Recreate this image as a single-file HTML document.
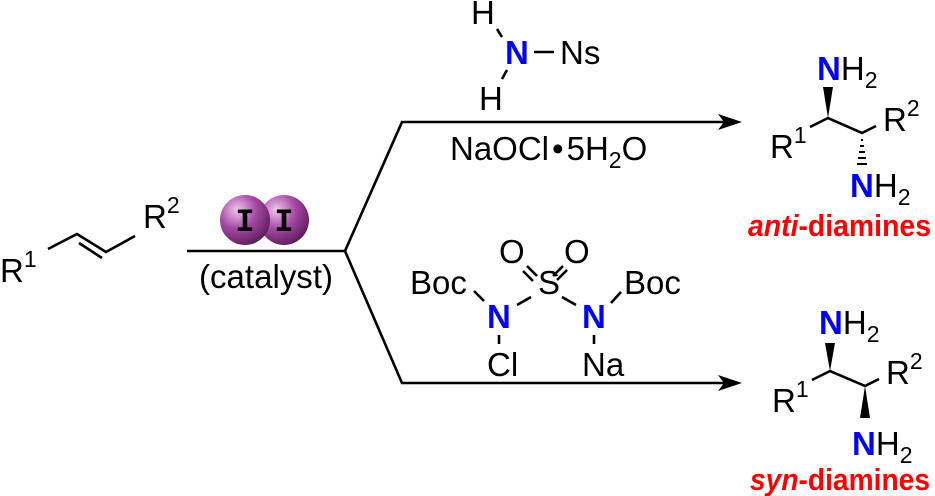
<!DOCTYPE html>
<html><head><meta charset="utf-8"><style>
html,body{margin:0;padding:0;background:#fff;}
svg{display:block;}
text{font-family:"Liberation Sans",Arial,sans-serif;font-size:33px;fill:#000;}
.b{fill:#0000ff;font-weight:bold;}
.s{font-size:23px;}
.r{fill:#ff0000;font-weight:bold;font-size:31px;}
</style></head><body>
<svg width="935" height="496" viewBox="0 0 935 496" xmlns="http://www.w3.org/2000/svg">
<defs>
<radialGradient id="g" cx="0.35" cy="0.3" r="0.75">
<stop offset="0" stop-color="#f2c6f0"/><stop offset="0.5" stop-color="#a54aa3"/><stop offset="1" stop-color="#5e1a5e"/>
</radialGradient>
</defs>
<g stroke="#000" stroke-width="2.6" fill="none">
<polyline points="48,249 77,234 106,252 135,236"/>
<line x1="79" y1="243" x2="102" y2="258"/>
<line x1="187" y1="251" x2="345" y2="251"/>
<polyline points="345,251 402,122 730,122"/>
<polyline points="345,251 402,383 730,383"/>
<line x1="497" y1="29" x2="502" y2="37"/>
<line x1="534" y1="52" x2="554" y2="52"/>
<line x1="507" y1="70" x2="502" y2="79"/>
<line x1="474" y1="291" x2="484" y2="301"/>
<line x1="517" y1="305" x2="531" y2="297"/>
<line x1="562" y1="297" x2="576" y2="305"/>
<line x1="611" y1="303" x2="621" y2="292"/>
<line x1="499" y1="335" x2="499" y2="344"/>
<line x1="594" y1="335" x2="594" y2="344"/>
<line x1="523" y1="271" x2="533" y2="281"/>
<line x1="527" y1="266" x2="537" y2="276"/>
<line x1="557" y1="280" x2="567" y2="270"/>
<line x1="553" y1="276" x2="563" y2="266"/>
<polyline points="810,127 828,118 862,133 876,126"/>
<polyline points="812,380 830,371 865,386 879,379"/>
</g>
<polygon points="742,122 718,114 724,122 718,130" fill="#000"/>
<polygon points="742,383 718,375 724,383 718,391" fill="#000"/>
<polygon points="828,118 823,87 833,87" fill="#000"/>
<polygon points="830,371 825,343 835,343" fill="#000"/>
<polygon points="865,386 860,418 870,418" fill="#000"/>
<g stroke="#000" stroke-width="2">
<line x1="861" y1="140" x2="863" y2="140"/>
<line x1="860" y1="146" x2="864" y2="146"/>
<line x1="859" y1="152" x2="865" y2="152"/>
<line x1="858" y1="158" x2="866" y2="158"/>
<line x1="857" y1="164" x2="867" y2="164"/>
</g>
<circle cx="284" cy="220" r="25" fill="url(#g)"/>
<circle cx="245" cy="220" r="25" fill="url(#g)"/>
<text x="245" y="231" text-anchor="middle" style="font-family:'Liberation Mono',monospace;font-weight:bold;font-size:32px">I</text>
<text x="284" y="231" text-anchor="middle" style="font-family:'Liberation Mono',monospace;font-weight:bold;font-size:32px">I</text>
<text x="0" y="282">R<tspan class="s" dy="-15">1</tspan></text>
<text x="143" y="228">R<tspan class="s" dy="-15">2</tspan></text>
<text x="199" y="288" textLength="134" lengthAdjust="spacingAndGlyphs">(catalyst)</text>
<text x="471" y="24">H</text>
<text x="505" y="64" class="b">N</text>
<text x="560" y="64">Ns</text>
<text x="479" y="110">H</text>
<text x="450" y="160">NaOCl<tspan dx="3">•</tspan><tspan dx="3">5H</tspan><tspan class="s" dy="8">2</tspan><tspan dy="-8">O</tspan></text>
<text x="499" y="263">O</text>
<text x="564" y="263">O</text>
<text x="410" y="294">Boc</text>
<text x="538" y="294">S</text>
<text x="624" y="294">Boc</text>
<text x="487" y="328" class="b">N</text>
<text x="582" y="328" class="b">N</text>
<text x="487" y="376">Cl</text>
<text x="582" y="376">Na</text>
<text x="817" y="80"><tspan class="b">N</tspan>H<tspan class="s" dy="8">2</tspan></text>
<text x="770" y="158">R<tspan class="s" dy="-15">1</tspan></text>
<text x="883" y="131">R<tspan class="s" dy="-15">2</tspan></text>
<text x="850" y="197"><tspan class="b">N</tspan>H<tspan class="s" dy="8">2</tspan></text>
<text x="748" y="236" class="r" textLength="183" lengthAdjust="spacingAndGlyphs"><tspan font-style="italic">anti</tspan>-diamines</text>
<text x="819" y="334"><tspan class="b">N</tspan>H<tspan class="s" dy="8">2</tspan></text>
<text x="772" y="412">R<tspan class="s" dy="-15">1</tspan></text>
<text x="886" y="384">R<tspan class="s" dy="-15">2</tspan></text>
<text x="852" y="455"><tspan class="b">N</tspan>H<tspan class="s" dy="8">2</tspan></text>
<text x="750" y="490" class="r" textLength="180" lengthAdjust="spacingAndGlyphs"><tspan font-style="italic">syn</tspan>-diamines</text>
</svg>
</body></html>
